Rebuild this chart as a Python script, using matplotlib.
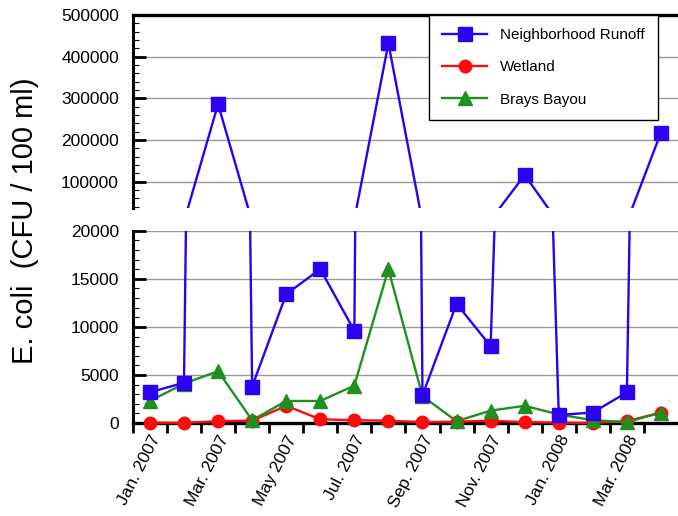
import matplotlib

matplotlib.use("Agg")

import numpy as np
from matplotlib import pyplot as plt
from matplotlib.patches import Rectangle
from matplotlib.ticker import MultipleLocator, FixedLocator

plt.rcParams["font.family"] = ["Liberation Sans", "DejaVu Sans"]

months = ["Jan. 2007", "Feb. 2007", "Mar. 2007", "Apr. 2007", "May 2007", "Jun. 2007",
          "Jul. 2007", "Aug. 2007", "Sep. 2007", "Oct. 2007", "Nov. 2007", "Dec. 2007",
          "Jan. 2008", "Feb. 2008", "Mar. 2008", "Apr. 2008"]
runoff = [3200, 4200, 286000, 3800, 13400, 16000, 9600, 432000, 2900, 12400, 8000, 116000,
          850, 1100, 3200, 218000]
wetland = [50, 30, 200, 250, 1800, 400, 300, 250, 100, 150, 250, 100, 50, 30, 200, 1100]
brays = [2300, 4100, 5400, 300, 2300, 2300, 3900, 16000, 2800, 200, 1300, 1800, 900, 300, 100, 1100]

BLUE = "#2c00f2"
RED = "#ff0a0a"
GREEN = "#1f8f1f"

x = np.arange(len(months))

fig = plt.figure(figsize=(6.78, 5.16), dpi=100)
ax_top = fig.add_axes([0.196, 0.597, 0.804, 0.374])
ax_bot = fig.add_axes([0.196, 0.180, 0.804, 0.373])

series = [
    (runoff, BLUE, "s", 9.5, "Neighborhood Runoff", 5),
    (wetland, RED, "o", 9.0, "Wetland", 3),
    (brays, GREEN, "^", 9.5, "Brays Bayou", 4),
]

handles = []
for ax in (ax_top, ax_bot):
    for vals, color, marker, ms, label, z in series:
        (ln,) = ax.plot(x, vals, color=color, marker=marker, markersize=ms, lw=1.7,
                        markeredgecolor=color, label=label, zorder=z)
        if ax is ax_top:
            handles.append(ln)
    ax.set_xlim(-0.5, 15.5)
    ax.grid(axis="y", color="#9a9a9a", lw=1.0)
    ax.set_axisbelow(True)
    ax.spines["right"].set_visible(False)
    ax.spines["left"].set_linewidth(2.2)
    ax.tick_params(axis="y", which="major", direction="in", length=9, width=2, labelsize=12.5, pad=10)
    ax.tick_params(axis="y", which="minor", direction="in", length=4, width=0.8)

# upper panel
ax_top.set_ylim(37000, 500000)
ax_top.yaxis.set_major_locator(MultipleLocator(100000))
ax_top.yaxis.set_minor_locator(MultipleLocator(20000))
ax_top.spines["bottom"].set_visible(False)
ax_top.spines["top"].set_linewidth(2.4)
ax_top.set_xticks([])

# lower panel: clip at the top only, so markers at zero are drawn whole
clip = Rectangle((-0.05, -0.2), 1.1, 1.2, transform=ax_bot.transAxes, facecolor="none", edgecolor="none")
ax_bot.add_patch(clip)
for ln in ax_bot.lines:
    ln.set_clip_path(clip)
ax_bot.set_ylim(0, 20000)
ax_bot.yaxis.set_major_locator(MultipleLocator(5000))
ax_bot.yaxis.set_minor_locator(MultipleLocator(1000))
ax_bot.spines["top"].set_visible(False)
ax_bot.spines["bottom"].set_linewidth(2.4)
ax_bot.spines["bottom"].set_zorder(2.5)
ax_bot.set_xticks(x[::2])
ax_bot.set_xticklabels(months[::2], rotation=63, ha="right", va="top", rotation_mode="anchor")
ax_bot.xaxis.set_minor_locator(FixedLocator(np.arange(-0.5, 15.5, 1.0)))
ax_bot.tick_params(axis="x", which="major", length=0, labelsize=12.5, pad=7)
ax_bot.tick_params(axis="x", which="minor", direction="out", length=7, width=2)

leg = ax_top.legend(handles=handles, loc="upper right", bbox_to_anchor=(0.963, 1.0),
                    borderaxespad=0, fancybox=False, edgecolor="black", framealpha=1,
                    fontsize=11, handlelength=2.95, handletextpad=0.85, labelspacing=1.2,
                    borderpad=0.85)
leg.get_frame().set_linewidth(1.0)
leg.set_zorder(10)

fig.text(0.037, 0.572, "E. coli  (CFU / 100 ml)", rotation=90, ha="center", va="center", fontsize=21)

fig.savefig("out.png", dpi=100)
